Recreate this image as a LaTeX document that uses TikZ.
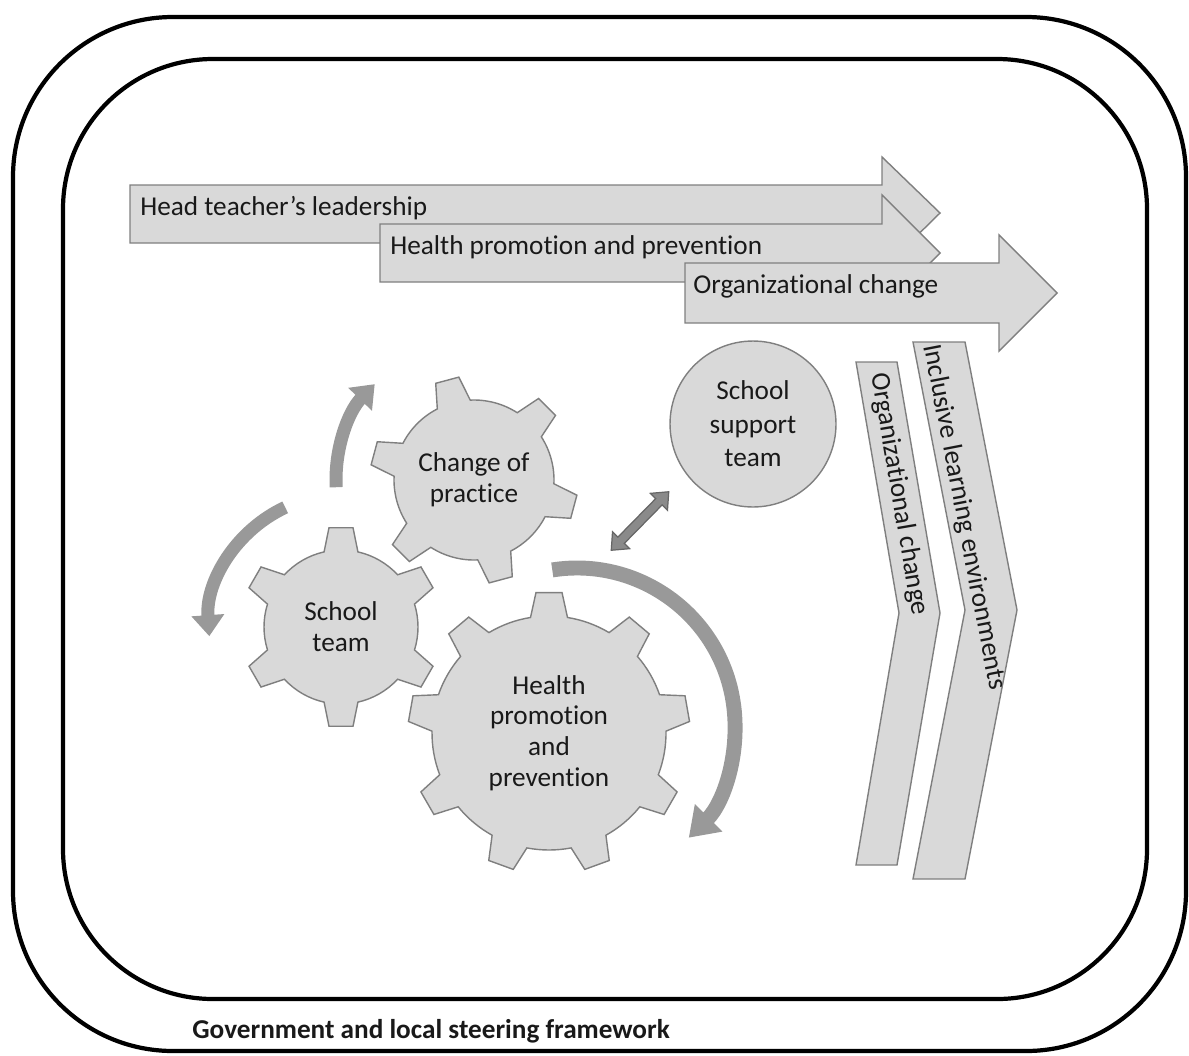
\documentclass[tikz,border=0pt]{standalone}
\usepackage{fontspec}
\setmainfont{Carlito}[Ligatures=NoCommon]
\usetikzlibrary{arrows.meta}

\definecolor{boxgray}{HTML}{D9D9D9}
\definecolor{edgegray}{HTML}{7F7F7F}
\definecolor{spingray}{HTML}{999999}
\definecolor{linkgray}{HTML}{8A8A8A}

\tikzset{
  fence/.style={line width=2.4pt, rounded corners=#1},
  band/.style={draw=edgegray, fill=boxgray, line width=0.8pt},
  cog/.style={draw=edgegray, fill=boxgray, line width=0.8pt},
  lbl/.style={font=\fontsize{15.5}{17.5}\selectfont, text=black!90, align=center, inner sep=0pt},
  spin/.style={draw=spingray, line width=7.4pt, -{Triangle[length=12pt,width=18pt]}},
  bigspin/.style={draw=spingray, line width=8.5pt, -{Triangle[length=16pt,width=21pt]}},
  linkarrow/.style={draw=black!60, fill=linkgray, line width=0.7pt}
}

% x, y, body r, tip r, teeth, first angle, base half-angle, tip half-angle
\newcommand{\cogwheel}[8]{%
  \draw[cog, shift={(#1,#2)}] ({#6+360/#5-#7}:#3)
    \foreach \k in {1,...,#5}{
      -- ({#6+360/#5*\k-#7}:#3) -- ({#6+360/#5*\k-#8}:#4)
      -- ({#6+360/#5*\k+#8}:#4) -- ({#6+360/#5*\k+#7}:#3)
      arc[start angle={#6+360/#5*\k+#7}, end angle={#6+360/#5*(\k+1)-#7}, radius=#3]
    } -- cycle;
}

\begin{document}
\begin{tikzpicture}[x=0.02cm, y=-0.02cm]
    \useasboundingbox (0,0) rectangle (1189,1055);

    % frames
    \draw[fence=3.2cm] (13,17) rectangle (1186,1051);
    \draw[fence=3cm] (63,59) rectangle (1147,999);
    \node[lbl, anchor=base west, font=\fontsize{15.5}{17.5}\selectfont\bfseries] (steer) at (192,1038) {Government and local steering framework};

    % arrows on top
    \draw[band] (130,185) -- (882,185) -- (882,157) -- (940,213) -- (882,270) -- (882,243) -- (130,243) -- cycle;
    \node[lbl, anchor=base west] (lead) at (140,215) {Head teacher’s leadership};
    \draw[band] (380,224) -- (882,224) -- (882,195) -- (940,253) -- (882,311) -- (882,282) -- (380,282) -- cycle;
    \node[lbl, anchor=base west] (prom) at (390,254) {Health promotion and prevention};
    \draw[band] (685,263) -- (999,263) -- (999,235) -- (1057,293) -- (999,351) -- (999,323) -- (685,323) -- cycle;
    \node[lbl, anchor=base west] (orgtop) at (693,293) {Organizational change};

    % chevrons
    \draw[band] (856,362) -- (897,362) -- (940,613) -- (897,865) -- (856,865) -- (899,613) -- cycle;
    \node[lbl, rotate=-80.3] (orgside) at (899,494) {Organizational change};
    \draw[band] (913,342) -- (965,342) -- (1017,610) -- (965,879) -- (913,879) -- (965,610) -- cycle;
    \node[lbl, rotate=-79.1] (incl) at (964,517) {Inclusive learning environments};

    % gears
    \cogwheel{341}{627}{77}{100}{6}{30}{12.7}{6.9}
    \cogwheel{474}{480}{80}{104}{6}{15}{12.3}{6.6}
    \cogwheel{549}{733}{117}{141}{9}{30}{9.1}{5.3}
    \node[lbl] (team) at (341,627) {School\\team};
    \node[lbl] (practice) at (474,480) {Change of\\practice};
    \node[lbl] (health) at (549,733) {Health\\promotion\\and\\prevention};

    % support team
    \node[lbl, circle, draw=edgegray, fill=boxgray, line width=0.8pt, minimum size=3.32cm,
      font=\fontsize{15.5}{19}\selectfont] (support) at (753,424) {School\\support\\team};
    \begin{scope}[shift={(640,521)}, rotate=45.5]
      \draw[linkarrow] (-41,0) -- (-27,-12) -- (-27,-4.5) -- (27,-4.5) -- (27,-12) -- (41,0)
        -- (27,12) -- (27,4.5) -- (-27,4.5) -- (-27,12) -- cycle;
    \end{scope}

    % turning arrows
    \draw[spin] ([shift={(-183:138)}]practice.center) arc[start angle=-183, end angle=-136, radius=138];
    \draw[spin] ([shift={(-115:132)}]team.center) arc[start angle=-115, end angle=-184, radius=132];
    \coordinate (hub) at ([shift={(28,-7)}]health.center);
    \draw[bigspin] ([shift={(-99:158)}]hub) arc[start angle=-99, end angle=45, radius=158];
\end{tikzpicture}
\end{document}
